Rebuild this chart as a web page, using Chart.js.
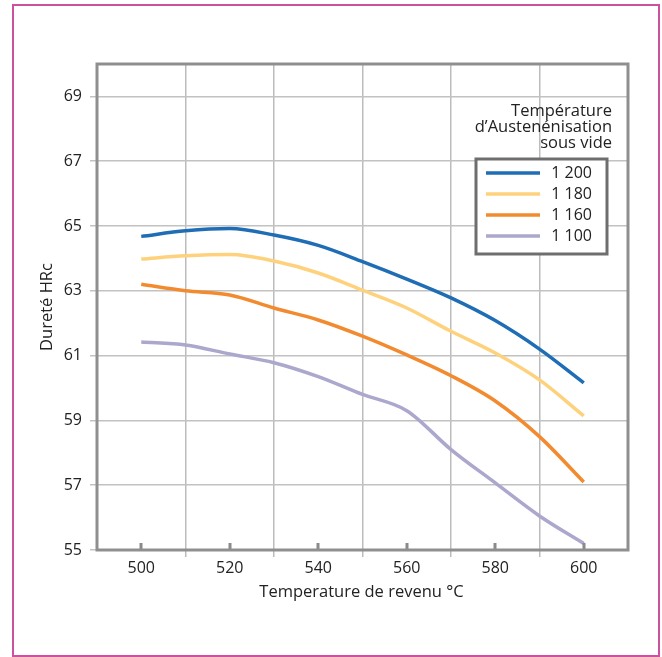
<!DOCTYPE html>
<html>
<head>
<meta charset="utf-8">
<script src="https://cdn.jsdelivr.net/npm/chart.js@4/dist/chart.umd.min.js"></script>
<style>
  html, body { margin: 0; padding: 0; background: #fff; }
  #wrap { position: relative; width: 662px; height: 657px; }
  canvas { display: block; }
</style>
</head>
<body>
<div id="wrap"><canvas id="c" width="662" height="657"></canvas></div>
<script>
const temperatures = [500, 510, 520, 530, 540, 550, 560, 570, 580, 590, 600];
const hardness1200 = [64.68, 64.85, 64.92, 64.72, 64.4, 63.9, 63.36, 62.78, 62.08, 61.2, 60.16];
const hardness1180 = [63.98, 64.08, 64.12, 63.92, 63.55, 63.02, 62.47, 61.75, 61.08, 60.25, 59.14];
const hardness1160 = [63.2, 63.0, 62.87, 62.47, 62.1, 61.6, 61.02, 60.38, 59.6, 58.5, 57.1];
const hardness1100 = [61.42, 61.33, 61.05, 60.78, 60.35, 59.8, 59.3, 58.1, 57.07, 56.05, 55.2];
const seriesLabels = ['1 200', '1 180', '1 160', '1 100'];
const seriesColors = ['#1f6db4', '#fed27c', '#f28b30', '#aba7cd'];
const legendTitle = ['Température', 'd\u2019Austenénisation', 'sous vide'];
const xLabelValues = [500, 520, 540, 560, 580, 600];
const yTickValues = [55, 57, 59, 61, 63, 65, 67, 69];
const xTitle = 'Temperature de revenu °C';
const yTitle = 'Dureté HRc';

const FONT = '"Open Sans", "Noto Sans", sans-serif';
const allSeries = [hardness1200, hardness1180, hardness1160, hardness1100];

const decor = {
  id: 'decor',
  beforeDraw(chart) {
    const ctx = chart.ctx;
    ctx.save();
    ctx.fillStyle = '#fff';
    ctx.fillRect(0, 0, chart.width, chart.height);
    ctx.strokeStyle = '#cc52a0';
    ctx.lineWidth = 2;
    ctx.strokeRect(13, 5, 646, 651);
    ctx.restore();
  },
  afterDatasetsDraw(chart) {
    const ctx = chart.ctx;
    const a = chart.chartArea;
    const xs = chart.scales.x;
    ctx.save();
    ctx.fillStyle = '#8a8a8a';
    xLabelValues.forEach(v => {
      const px = Math.round(xs.getPixelForValue(v));
      ctx.fillRect(px - 1.5, a.bottom - 7, 3, 7);
    });
    ctx.strokeStyle = '#8f8f8f';
    ctx.lineWidth = 3;
    ctx.strokeRect(a.left, a.top, a.right - a.left, a.bottom - a.top);

    ctx.fillStyle = '#222';
    ctx.font = '16.5px ' + FONT;
    ctx.textAlign = 'center';
    ctx.textBaseline = 'middle';
    ctx.fillText(xTitle, (a.left + a.right) / 2 - 1, a.bottom + 42);
    ctx.save();
    ctx.translate(a.left - 50, (a.top + a.bottom) / 2);
    ctx.rotate(-Math.PI / 2);
    ctx.fillText(yTitle, 0, 0);
    ctx.restore();

    ctx.textAlign = 'right';
    const tx = a.right - 16;
    legendTitle.forEach((t, i) => ctx.fillText(t, tx, a.top + 47 + i * 16));

    const bx = a.left + 379, by = a.top + 95, bw = 131, bh = 95;
    ctx.fillStyle = '#fff';
    ctx.fillRect(bx, by, bw, bh);
    ctx.strokeStyle = '#6e6e6e';
    ctx.lineWidth = 3;
    ctx.strokeRect(bx, by, bw, bh);
    ctx.font = '16px ' + FONT;
    chart.data.datasets.forEach((ds, i) => {
      const yy = by + 14 + i * 21;
      ctx.strokeStyle = ds.borderColor;
      ctx.lineWidth = 3.5;
      ctx.beginPath();
      ctx.moveTo(bx + 10, yy);
      ctx.lineTo(bx + 64, yy);
      ctx.stroke();
      ctx.fillStyle = '#222';
      ctx.textAlign = 'right';
      ctx.fillText(ds.label, bx + 116, yy);
    });
    ctx.restore();
  }
};

new Chart(document.getElementById('c'), {
  type: 'line',
  data: {
    datasets: allSeries.map((s, i) => ({
      label: seriesLabels[i],
      data: temperatures.map((t, j) => ({ x: t, y: s[j] })),
      borderColor: seriesColors[i],
      backgroundColor: seriesColors[i],
      borderWidth: 3.5,
      pointRadius: 0,
      cubicInterpolationMode: 'monotone',
      fill: false
    }))
  },
  options: {
    responsive: false,
    animation: false,
    layout: { padding: { left: 0, top: 64, right: 34, bottom: 0 } },
    plugins: { legend: { display: false }, tooltip: { enabled: false } },
    scales: {
      x: {
        type: 'linear',
        min: 490, max: 610,
        afterFit(s) { s.height = 107; },
        afterBuildTicks(s) { s.ticks = []; for (let v = 490; v <= 610; v += 10) s.ticks.push({ value: v }); },
        border: { display: false },
        grid: {
          color: c => (c.tick && (c.tick.value % 20 === 10) && c.tick.value !== 490 && c.tick.value !== 610) ? '#bcbcbc' : 'rgba(0,0,0,0)',
          lineWidth: 1.5,
          tickLength: 7,
          drawOnChartArea: true
        },
        ticks: {
          autoSkip: false,
          maxRotation: 0,
          padding: 2,
          color: '#222',
          font: { family: FONT, size: 16 },
          callback: v => xLabelValues.includes(v) ? String(v) : ''
        }
      },
      y: {
        min: 55, max: 70,
        afterFit(s) { s.width = 97; },
        afterBuildTicks(s) { s.ticks = yTickValues.map(v => ({ value: v })); },
        border: { display: false },
        grid: {
          color: c => (c.tick && c.tick.value === 55) ? 'rgba(0,0,0,0)' : '#c2c2c2',
          tickColor: '#c2c2c2',
          lineWidth: 1.5,
          tickLength: 7
        },
        ticks: {
          padding: 8,
          color: '#222',
          font: { family: FONT, size: 16 },
          callback: v => String(v)
        }
      }
    }
  },
  plugins: [decor]
});
</script>
</body>
</html>
